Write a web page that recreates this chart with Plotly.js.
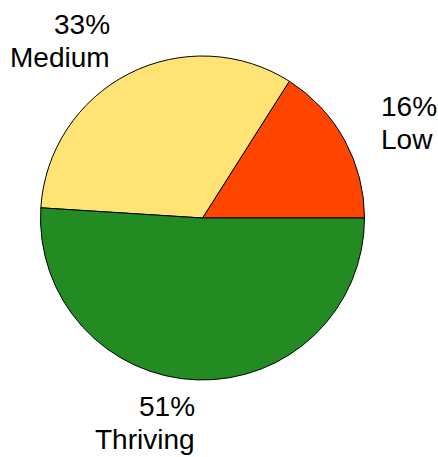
<!DOCTYPE html>
<html>
<head>
<meta charset="utf-8">
<script src="https://cdn.plot.ly/plotly-3.0.1.min.js"></script>
<style>html,body{margin:0;padding:0;background:#fff;}#chart{width:438px;height:457px;}</style>
</head>
<body>
<div id="chart"></div>
<script>
var categories = ["Low", "Medium", "Thriving"];
var values = [16, 33, 51];
var colors = ["#FF4500", "#FFE375", "#228B22"];

var W = 438, H = 457;
var domX = [40.5 / W, 364.5 / W];
var domY = [1 - 380 / H, 1 - 56 / H];

// pie geometry in pixels (derived from domain)
var cxp = (domX[0] + domX[1]) / 2 * W;
var cyp = (1 - (domY[0] + domY[1]) / 2) * H;
var Rp = Math.min((domX[1] - domX[0]) * W, (domY[1] - domY[0]) * H) / 2;

var total = values.reduce(function (a, b) { return a + b; }, 0);
var annotations = [];
var cum = 0;
var k = 1.25;
var lineGap = 33;
var baseShift = -3;
var font = {family: "Liberation Sans, Arial, sans-serif", size: 28, color: "#000"};
for (var i = 0; i < values.length; i++) {
  var frac = values[i] / total;
  var mid = (cum + frac / 2) * 2 * Math.PI;
  cum += frac;
  var px = cxp + k * Rp * Math.cos(mid);
  var py = cyp - k * Rp * Math.sin(mid);
  var pct = Math.round(frac * 100) + "%";
  var right = Math.cos(mid) >= 0;
  var lines = [pct, categories[i]];
  for (var j = 0; j < lines.length; j++) {
    annotations.push({
      x: px / W, y: 1 - py / H, xref: "paper", yref: "paper",
      yshift: baseShift + (j === 0 ? 1 : -1) * lineGap / 2,
      xshift: right ? -1 : 1,
      text: lines[j],
      showarrow: false,
      xanchor: right ? "left" : "right",
      yanchor: "middle",
      align: right ? "left" : "right",
      font: font
    });
  }
}

// Plotly's counterclockwise mode ends the first slice at `rotation`,
// so shift by the first slice's angle to make it start at 3 o'clock.
var rot = 90 - values[0] / total * 360;

var trace = {
  type: "pie",
  labels: categories,
  values: values,
  sort: false,
  direction: "counterclockwise",
  rotation: rot,
  textinfo: "none",
  hoverinfo: "skip",
  marker: {colors: colors, line: {color: "#000", width: 1}},
  domain: {x: domX, y: domY},
  showlegend: false
};

var layout = {
  width: W, height: H,
  margin: {l: 0, r: 0, t: 0, b: 0},
  paper_bgcolor: "#fff",
  plot_bgcolor: "#fff",
  showlegend: false,
  annotations: annotations
};

Plotly.newPlot("chart", [trace], layout, {staticPlot: true, displayModeBar: false});
</script>
</body>
</html>
